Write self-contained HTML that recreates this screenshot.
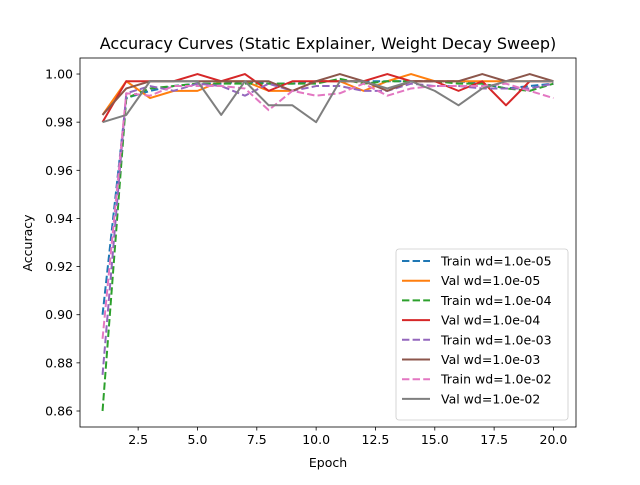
<!DOCTYPE html>
<html><head><meta charset="utf-8"><style>
body{margin:0;background:#fff;font-family:"Liberation Sans","DejaVu Sans",sans-serif;}
svg text{font-family:"DejaVu Sans","Liberation Sans",sans-serif;}
</style></head><body>
<svg id="chart" width="640" height="480" xmlns="http://www.w3.org/2000/svg"></svg>
<script>
const epochs=[1,2,3,4,5,6,7,8,9,10,11,12,13,14,15,16,17,18,19,20];
const trainWd1e5=[0.90,0.990,0.993,0.995,0.996,0.996,0.997,0.996,0.996,0.997,0.997,0.997,0.997,0.997,0.997,0.997,0.996,0.994,0.995,0.996];
const valWd1e5=[0.983,0.997,0.990,0.993,0.993,0.997,0.997,0.993,0.993,0.997,0.997,0.993,0.997,1.000,0.997,0.997,0.997,0.997,0.997,0.997];
const trainWd1e4=[0.86,0.990,0.994,0.995,0.996,0.996,0.996,0.996,0.996,0.996,0.998,0.996,0.997,0.997,0.997,0.996,0.996,0.994,0.993,0.996];
const valWd1e4=[0.980,0.997,0.997,0.997,1.000,0.997,1.000,0.993,0.997,0.997,0.997,0.997,1.000,0.997,0.997,0.993,0.997,0.987,0.997,0.997];
const trainWd1e3=[0.875,0.992,0.995,0.993,0.996,0.995,0.991,0.996,0.993,0.995,0.995,0.993,0.993,0.996,0.995,0.995,0.994,0.994,0.994,0.996];
const valWd1e3=[0.983,0.994,0.997,0.997,0.997,0.997,0.997,0.997,0.993,0.997,1.000,0.997,0.993,0.997,0.997,0.997,1.000,0.997,1.000,0.997];
const trainWd1e2=[0.89,0.992,0.991,0.995,0.995,0.995,0.994,0.985,0.993,0.991,0.992,0.996,0.991,0.994,0.995,0.995,0.995,0.996,0.993,0.990];
const valWd1e2=[0.980,0.983,0.997,0.997,0.997,0.983,0.997,0.987,0.987,0.980,0.997,0.997,0.994,0.997,0.993,0.987,0.994,0.997,0.997,0.997];
const xTicks=[2.5,5.0,7.5,10.0,12.5,15.0,17.5,20.0];
const yTicks=[0.86,0.88,0.90,0.92,0.94,0.96,0.98,1.00];
const seriesNames=["Train wd=1.0e-05","Val wd=1.0e-05","Train wd=1.0e-04","Val wd=1.0e-04","Train wd=1.0e-03","Val wd=1.0e-03","Train wd=1.0e-02","Val wd=1.0e-02"];

const NS="http://www.w3.org/2000/svg";
const svg=document.getElementById('chart');
const L=80,R=576,T=58,B=427;
const xs=v=>L+(v-0.05)/(20.95-0.05)*(R-L);
const ys=v=>411+(0.86-v)/0.02*48.14;
function mk(tag,attrs,parent){const e=document.createElementNS(NS,tag);for(const k in attrs)e.setAttribute(k,attrs[k]);(parent||svg).appendChild(e);return e;}
const series=[
 [trainWd1e5,'#1f77b4',true],[valWd1e5,'#ff7f0e',false],
 [trainWd1e4,'#2ca02c',true],[valWd1e4,'#d62728',false],
 [trainWd1e3,'#9467bd',true],[valWd1e3,'#8c564b',false],
 [trainWd1e2,'#e377c2',true],[valWd1e2,'#7f7f7f',false]];
const t=mk('text',{x:328,y:49,'text-anchor':'middle','font-size':16});
t.textContent="Accuracy Curves (Static Explainer, Weight Decay Sweep)";


const plot=mk('g',{});


series.forEach((s,i)=>{
 const p=mk('polyline',{points:epochs.map((e,j)=>xs(e)+','+ys(s[0][j])).join(' '),fill:'none',stroke:s[1],'stroke-width':2,'stroke-linejoin':'round','stroke-dasharray':s[2]?'7.4,3.2':'none'},plot);
 
 
});
const frame=mk('rect',{x:L,y:T,width:R-L,height:B-T,fill:'none',stroke:'#000','stroke-width':0.8});


xTicks.forEach(v=>{
 const x=xs(v);
 mk('line',{x1:x,x2:x,y1:B,y2:B+3.5,stroke:'#000','stroke-width':0.8});
 const tx=mk('text',{x:x,y:B+17,'text-anchor':'middle','font-size':12.5});
 tx.textContent=v.toFixed(1);
 
 
});
yTicks.forEach(v=>{
 const y=ys(v);
 mk('line',{x1:L-3.5,x2:L,y1:y,y2:y,stroke:'#000','stroke-width':0.8});
 const tx=mk('text',{x:L-7,y:y+4.5,'text-anchor':'end','font-size':12.5});
 tx.textContent=v.toFixed(2);
 
 
});
const xl=mk('text',{x:328,y:467,'text-anchor':'middle','font-size':12.5});
xl.textContent="Epoch";


const yl=mk('text',{x:0,y:0,'text-anchor':'middle','font-size':12.5,transform:'translate(32,243) rotate(-90)'});
yl.textContent="Accuracy";


const lg=mk('g',{});


mk('rect',{x:396,y:249,width:172,height:171,rx:3,fill:'#fff','fill-opacity':0.8,stroke:'#ccc','stroke-width':0.8},lg);
series.forEach((s,i)=>{
 const y=261+i*19.7;
 const e=mk('g',{},lg);
 
 
 mk('line',{x1:402,x2:430,y1:y,y2:y,stroke:s[1],'stroke-width':2,'stroke-dasharray':s[2]?'7.4,3.2':'none'},e);
 const tx=mk('text',{x:441,y:y+4.5,'font-size':12.5},e);
 tx.textContent=seriesNames[i];
});
</script>
</body></html>
